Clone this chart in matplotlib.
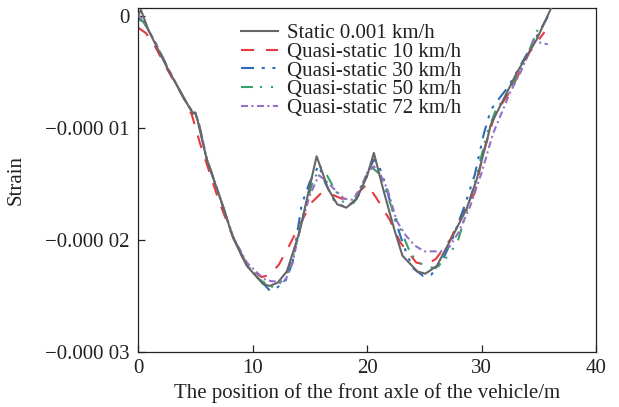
import numpy as np
import matplotlib
matplotlib.use("Agg")
import matplotlib.pyplot as plt
from matplotlib.ticker import FixedLocator, FixedFormatter

plt.rcParams['font.family'] = ['Liberation Serif', 'DejaVu Serif']
plt.rcParams['lines.scale_dashes'] = False

SCALE = 1e-5  # values below are in units of 1e-5 strain

static_x = [0, 0.25, 0.9, 2.5, 4.0, 4.8, 5.0, 5.2, 6.0, 7.2, 8.3, 9.5, 10.9, 11.5, 12.2, 13.0, 14.1, 15.0, 15.6,
            16.6, 17.4, 18.2, 19.1, 20.0, 20.6, 21.4, 22.4, 23.1, 24.4, 25.1, 26.1, 27.5, 28.7, 29.6, 30.5, 30.8,
            31.0, 33.1, 34.8, 36.2]
static_y = [0.0, 0.06, -0.12, -0.45, -0.73, -0.87, -0.86, -0.93, -1.28, -1.63, -1.98, -2.23, -2.39, -2.41, -2.38,
            -2.28, -1.93, -1.52, -1.25, -1.54, -1.68, -1.71, -1.63, -1.43, -1.22, -1.54, -1.91, -2.14, -2.28, -2.30,
            -2.23, -1.96, -1.72, -1.45, -1.10, -0.97, -0.93, -0.50, -0.21, 0.10]

v10_x = [0, 0.7, 1.5, 2.7, 4.0, 4.7, 5.4, 6.2, 7.0, 8.0, 9.1, 10.0, 10.8, 11.5, 12.3, 13.2, 14.5, 15.2, 16.0, 16.9,
         17.8, 18.7, 19.5, 20.0, 20.8, 22.0, 22.9, 24.3, 25.1, 26.0, 27.3, 28.3, 29.4, 30.2, 31.2, 32.5, 34.2, 35.5]
v10_y = [-0.10, -0.15, -0.27, -0.50, -0.73, -0.88, -1.13, -1.38, -1.63, -1.90, -2.15, -2.27, -2.33, -2.31, -2.22,
         -2.05, -1.79, -1.66, -1.58, -1.59, -1.63, -1.62, -1.55, -1.50, -1.62, -1.82, -2.02, -2.20, -2.22, -2.17,
         -1.99, -1.77, -1.58, -1.20, -0.87, -0.67, -0.32, -0.14]

v30_x = [0, 0.5, 1.5, 2.7, 4.0, 4.8, 5.0, 5.3, 6.0, 7.2, 8.3, 8.9, 9.7, 10.6, 11.5, 12.2, 12.9, 13.5, 14.3, 15.0,
         15.8, 16.4, 17.2, 18.2, 19.0, 19.8, 20.6, 21.0, 21.6, 22.4, 23.2, 24.0, 24.9, 25.6, 26.5, 27.5, 28.5, 29.4,
         30.2, 30.8, 31.2, 32.4, 34.0, 35.8]
v30_y = [-0.02, -0.05, -0.23, -0.48, -0.73, -0.86, -0.86, -0.95, -1.27, -1.63, -1.97, -2.10, -2.25, -2.35, -2.45,
         -2.42, -2.36, -2.20, -1.68, -1.48, -1.33, -1.50, -1.66, -1.71, -1.64, -1.45, -1.28, -1.32, -1.50, -1.80,
         -2.05, -2.25, -2.32, -2.31, -2.20, -1.98, -1.70, -1.42, -1.05, -0.84, -0.78, -0.62, -0.33, 0.0]

v50_x = [0, 0.5, 1.5, 2.7, 4.0, 4.8, 5.0, 5.3, 6.0, 7.2, 8.3, 9.5, 10.6, 11.6, 12.3, 13.0, 13.7, 14.4, 15.2, 15.9,
         16.5, 17.2, 18.0, 18.8, 19.6, 20.3, 21.0, 21.6, 22.2, 23.0, 23.8, 24.5, 25.3, 26.0, 27.0, 27.9, 28.6, 29.3,
         30.5, 31.2, 32.3, 33.0, 34.0, 34.8, 35.2]
v50_y = [-0.02, -0.05, -0.23, -0.48, -0.73, -0.86, -0.86, -0.95, -1.27, -1.63, -1.97, -2.22, -2.35, -2.42, -2.40,
         -2.30, -2.10, -1.78, -1.50, -1.34, -1.42, -1.55, -1.67, -1.67, -1.55, -1.34, -1.40, -1.55, -1.72, -1.92,
         -2.12, -2.20, -2.24, -2.25, -2.15, -2.02, -1.78, -1.53, -1.04, -0.85, -0.68, -0.55, -0.35, -0.14, -0.07]

v72_x = [0, 0.5, 1.5, 2.7, 4.0, 4.8, 5.0, 5.3, 6.0, 7.2, 8.3, 9.5, 10.5, 11.2, 12.0, 12.6, 13.0, 13.5, 14.1, 15.0,
         15.8, 16.4, 17.2, 18.0, 18.8, 19.5, 20.0, 20.6, 21.2, 21.8, 22.6, 23.4, 24.2, 25.0, 25.8, 26.5, 27.2, 28.0,
         29.0, 30.0, 31.0, 31.4, 32.5, 33.5, 34.5, 35.8]
v72_y = [0.02, -0.05, -0.23, -0.48, -0.73, -0.86, -0.86, -0.95, -1.27, -1.63, -1.97, -2.20, -2.30, -2.36, -2.37,
         -2.39, -2.33, -2.20, -1.92, -1.60, -1.42, -1.47, -1.55, -1.63, -1.64, -1.52, -1.40, -1.34, -1.42, -1.55,
         -1.83, -1.96, -2.05, -2.10, -2.10, -2.10, -2.06, -1.93, -1.70, -1.40, -1.05, -0.95, -0.68, -0.48, -0.22,
         -0.25]

labels = ['Static 0.001 km/h', 'Quasi-static 10 km/h', 'Quasi-static 30 km/h',
          'Quasi-static 50 km/h', 'Quasi-static 72 km/h']
colors = ['#666666', '#e8393c', '#2b6cb8', '#36a167', '#9470c8']
styles = ['-', (0, (9.4, 8.6)), (0, (9.4, 5.5, 2.2, 5.5, 2.2, 5.5)),
          (0, (8.6, 5.0, 1.5, 6.5, 1.5, 6.5)), (0, (5.0, 2.5, 1.5, 2.5))]

xticks = [0, 10, 20, 30, 40]
yticks = [0, -1e-5, -2e-5, -3e-5]
yticklabels = ['0', '\u22120.000 01', '\u22120.000 02', '\u22120.000 03']

fig = plt.figure(figsize=(6.19, 4.07), dpi=100)
ax = fig.add_axes([138 / 619, 55 / 407, 458 / 619, 344 / 407])

series = [(static_x, static_y), (v10_x, v10_y), (v30_x, v30_y), (v50_x, v50_y), (v72_x, v72_y)]
order = [1, 2, 3, 4, 0]
handles = [None] * 5
for i in order:
    xs, ys = series[i]
    ln, = ax.plot(xs, np.array(ys) * SCALE, color=colors[i], linestyle=styles[i], lw=1.5,
                  label=labels[i], zorder=3 if i == 0 else 2)
    handles[i] = ln

ax.set_xlim(0, 40)
ax.set_ylim(-3e-5, 0.075e-5)
ax.xaxis.set_major_locator(FixedLocator(xticks))
ax.yaxis.set_major_locator(FixedLocator(yticks))
ax.yaxis.set_major_formatter(FixedFormatter(yticklabels))
ax.tick_params(direction='in', length=5, width=0.9, labelsize=15, colors='#222222')
ax.tick_params(axis='y', pad=6)
ax.tick_params(axis='x', pad=5)
for sp in ax.spines.values():
    sp.set_linewidth(0.9)
    sp.set_color('#222222')

ax.set_xlabel('The position of the front axle of the vehicle/m', fontsize=15, labelpad=4, color='#222222')
ax.set_ylabel('Strain', fontsize=15, labelpad=14, color='#222222')

leg = ax.legend(handles=handles, labels=labels, loc='upper left', bbox_to_anchor=(0.225, 0.955),
                frameon=False, fontsize=15, borderaxespad=0, borderpad=0, handlelength=1.78,
                handletextpad=0.43, labelspacing=-0.04)
for t in leg.get_texts():
    t.set_color('#222222')

fig.savefig('out.png', dpi=100)
